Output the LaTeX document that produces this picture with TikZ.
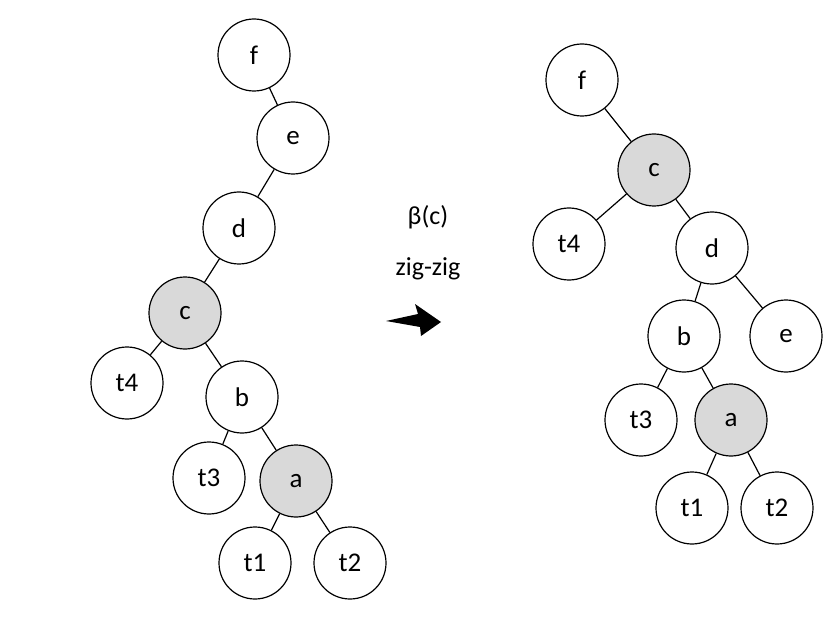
\documentclass[tikz,border=0pt]{standalone}
\usepackage{fontspec}
\setmainfont{Carlito}
\begin{document}
\begin{tikzpicture}[x=1pt,y=-1pt,
  nd/.style={circle,draw,line width=1.2pt,minimum size=72pt,inner sep=0pt,font=\fontsize{27}{32}\selectfont},
  hl/.style={nd,fill=gray!30},
  ed/.style={line width=1.2pt},
  lbl/.style={font=\fontsize{26}{31}\selectfont}]
\useasboundingbox (0,0) rectangle (831,623);
% left tree
\node[nd] (lf) at (254,55) {f};
\node[nd] (le) at (293,138) {e};
\node[nd] (ld) at (239,228) {d};
\node[hl] (lc) at (185,313) {c};
\node[nd] (lt4) at (127,383) {t4};
\node[nd] (lb) at (242,397) {b};
\node[nd] (lt3) at (209,478) {t3};
\node[hl] (la) at (296,481) {a};
\node[nd] (lt1) at (255,563) {t1};
\node[nd] (lt2) at (350,563) {t2};
\foreach \u/\v in {lf/le,le/ld,ld/lc,lc/lt4,lc/lb,lb/lt3,lb/la,la/lt1,la/lt2}
  \draw[ed] (\u) -- (\v);
% right tree
\node[nd] (rf) at (582,80) {f};
\node[hl] (rc) at (654,170) {c};
\node[nd] (rt4) at (569,244) {t4};
\node[nd] (rd) at (712,248) {d};
\node[nd] (rb) at (684,336) {b};
\node[nd] (re) at (786,336) {e};
\node[nd] (rt3) at (641,420) {t3};
\node[hl] (ra) at (731,420) {a};
\node[nd] (rt1) at (692,508) {t1};
\node[nd] (rt2) at (777,508) {t2};
\foreach \u/\v in {rf/rc,rc/rt4,rc/rd,rd/rb,rd/re,rb/rt3,rb/ra,ra/rt1,ra/rt2}
  \draw[ed] (\u) -- (\v);
% label and arrow
\node[lbl] (beta) at (428,217) {β(c)};
\node[lbl] (zz) at (428,269) {zig-zig};
\fill (386,321) -- (418,314) -- (415,304) -- (441,322) -- (421,336) -- (420,327) -- cycle;
\end{tikzpicture}
\end{document}
